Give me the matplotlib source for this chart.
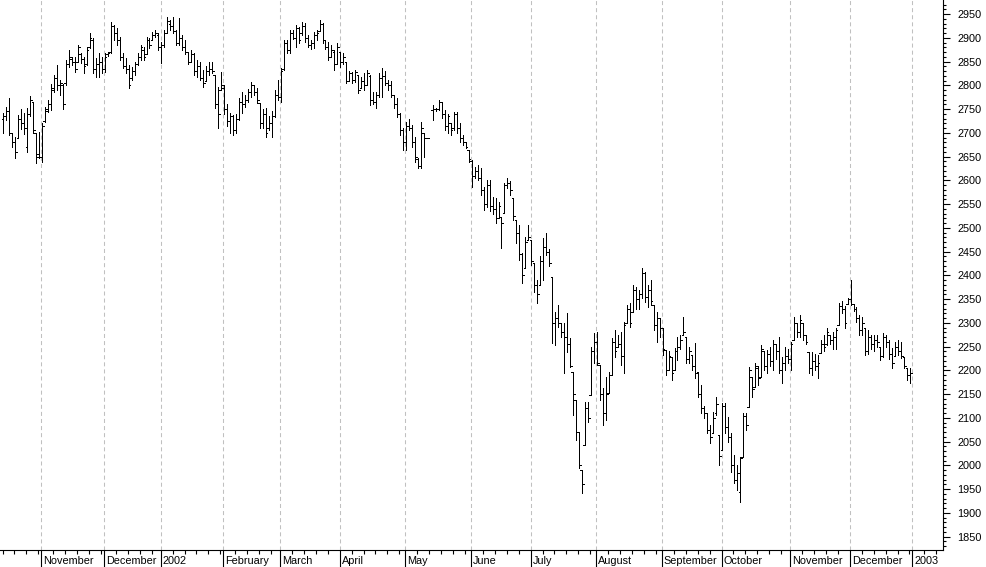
import numpy as np
import matplotlib
matplotlib.use("Agg")
import matplotlib.pyplot as plt
import matplotlib.transforms as mtransforms
from matplotlib.ticker import FixedLocator, MultipleLocator, NullFormatter

plt.rcParams['font.family'] = ['Liberation Sans', 'DejaVu Sans']
plt.rcParams['lines.scale_dashes'] = False

# month labels (drawn at the first bar of each month) and trading days per month
month_labels = ["November", "December", "2002", "February", "March", "April", "May",
                "June", "July", "August", "September", "October", "November",
                "December", "2003"]
bars_per_month = [13, 21, 19, 21, 19, 20, 22, 22, 20, 22, 22, 20, 23, 20, 21]  # Oct 2001 .. Dec 2002

nan = float("nan")

high = [
    # Oct 2001
    2742, 2754, 2773, 2700, 2691, 2737, 2750, 2742, 2752, 2777, 2765, 2700, 2702,
    # Nov
    2721, 2754, 2769, 2803, 2822, 2843, 2811, 2803, 2853, 2874, 2860, 2860, 2885, 2868, 2860, 2880, 2910, 2899, 2857, 2868, 2860,
    # Dec
    2868, 2870, 2933, 2927, 2920, 2902, 2868, 2857, 2843, 2838, 2849, 2868, 2885, 2880, 2902, 2899, 2912, 2916, 2910,
    # Jan 2002
    2891, 2916, 2944, 2937, 2944, 2916, 2941, 2906, 2895, 2870, 2874, 2868, 2853, 2849, 2832, 2840, 2849, 2850, 2822, 2796, 2828,
    # Feb
    2800, 2760, 2742, 2737, 2740, 2773, 2786, 2780, 2792, 2807, 2800, 2795, 2763, 2750, 2752, 2735, 2745, 2790, 2811,
    # Mar
    2836, 2895, 2895, 2916, 2916, 2927, 2922, 2933, 2931, 2906, 2895, 2912, 2916, 2937, 2931, 2895, 2891, 2885, 2874, 2889,
    # Apr
    2870, 2868, 2849, 2830, 2828, 2832, 2822, 2818, 2826, 2832, 2822, 2786, 2786, 2826, 2836, 2830, 2812, 2810, 2780, 2773, 2742, 2710,
    # May
    2723, 2730, 2716, 2691, 2647, 2723, 2700, 2689, nan, 2758, 2752, 2769, 2765, 2748, 2740, 2720, 2744, 2744, 2721, 2695, 2681, 2664,
    # Jun
    2643, 2628, 2632, 2626, 2586, 2601, 2601, 2565, 2563, 2555, 2523, 2594, 2605, 2598, 2563, 2516, 2506, 2447, 2481, 2506,
    # Jul
    2474, 2426, 2390, 2440, 2478, 2489, 2455, 2397, 2323, 2337, 2300, 2300, 2321, 2268, 2197, 2138, 2070, 1990, 2133, 2133, 2249, 2279,
    # Aug
    2281, 2211, 2163, 2186, 2197, 2268, 2285, 2275, 2281, 2302, 2337, 2342, 2380, 2375, 2370, 2415, 2407, 2380, 2390, 2337, 2323, 2310,
    # Sep
    2289, 2243, 2240, 2228, 2247, 2270, 2275, 2312, 2270, 2250, 2232, 2258, 2197, 2169, 2125, 2110, 2085, 2112, 2144, 2064,
    # Oct
    2131, 2131, 2102, 2068, 2022, 2001, 2018, 2110, 2110, 2207, 2186, 2215, 2210, 2253, 2240, 2243, 2250, 2264, 2255, 2270, 2228, 2249, 2245,
    # Nov
    2260, 2312, 2300, 2317, 2300, 2275, 2239, 2239, 2235, 2232, 2264, 2275, 2289, 2275, 2280, 2290, 2342, 2345, 2335, 2352,
    # Dec
    2390, 2340, 2333, 2317, 2312, 2289, 2285, 2275, 2275, 2274, 2249, 2279, 2275, 2265, 2247, 2260, 2264, 2260, 2228, 2205, 2205,
]

low = [
    2700, 2727, 2695, 2670, 2647, 2689, 2708, 2698, 2660, 2735, 2700, 2636, 2647,
    2639, 2723, 2744, 2748, 2786, 2790, 2780, 2750, 2801, 2838, 2843, 2828, 2849, 2847, 2826, 2843, 2878, 2826, 2817, 2817, 2825,
    2828, 2862, 2868, 2895, 2885, 2853, 2836, 2826, 2794, 2811, 2822, 2843, 2853, 2853, 2868, 2878, 2895, 2902, 2874,
    2847, 2880, 2910, 2916, 2910, 2885, 2885, 2875, 2865, 2845, 2849, 2822, 2817, 2811, 2796, 2810, 2822, 2825, 2752, 2710, 2790,
    2740, 2715, 2700, 2695, 2700, 2727, 2742, 2755, 2765, 2775, 2780, 2763, 2710, 2710, 2691, 2705, 2692, 2733, 2769,
    2765, 2832, 2868, 2868, 2898, 2880, 2890, 2905, 2891, 2880, 2876, 2878, 2895, 2915, 2889, 2876, 2853, 2860, 2832, 2845,
    2838, 2845, 2805, 2810, 2805, 2806, 2784, 2795, 2790, 2800, 2758, 2760, 2752, 2775, 2775, 2800, 2790, 2775, 2752, 2733, 2695, 2664,
    2664, 2705, 2670, 2638, 2626, 2626, 2650, 2689, nan, 2727, 2745, 2748, 2731, 2706, 2700, 2695, 2706, 2700, 2681, 2675, 2668, 2638,
    2585, 2605, 2600, 2569, 2538, 2544, 2535, 2530, 2510, 2520, 2458, 2531, 2584, 2570, 2516, 2468, 2432, 2384, 2415, 2474,
    2422, 2365, 2342, 2380, 2390, 2443, 2420, 2258, 2254, 2291, 2270, 2194, 2239, 2207, 2106, 2054, 1995, 1942, 2043, 2091, 2148, 2216,
    2211, 2138, 2085, 2096, 2152, 2190, 2228, 2250, 2211, 2194, 2300, 2291, 2323, 2330, 2330, 2352, 2344, 2333, 2338, 2285, 2260, 2270,
    2232, 2190, 2200, 2180, 2201, 2222, 2245, 2274, 2215, 2215, 2201, 2184, 2144, 2110, 2100, 2068, 2047, 2068, 2106, 2001,
    2032, 2068, 2049, 1986, 1963, 1948, 1923, 2018, 2075, 2123, 2144, 2165, 2170, 2186, 2200, 2195, 2210, 2201, 2225, 2195, 2174, 2201, 2215,
    2201, 2264, 2270, 2270, 2265, 2255, 2194, 2190, 2200, 2184, 2237, 2240, 2253, 2255, 2245, 2245, 2295, 2320, 2290, 2340,
    2337, 2325, 2302, 2275, 2275, 2232, 2235, 2245, 2240, 2249, 2222, 2228, 2250, 2225, 2205, 2230, 2232, 2226, 2205, 2180, 2174,
]

open_ = [
    2730, 2735, 2745, 2700, 2680, 2690, 2730, 2720, 2670, 2740, 2765, 2700, 2655,
    2650, 2725, 2750, 2760, 2790, 2815, 2800, 2800, 2805, 2845, 2855, 2850, 2850, 2865, 2855, 2845, 2880, 2895, 2835, 2845, 2850,
    2835, 2865, 2870, 2925, 2910, 2895, 2860, 2840, 2835, 2815, 2830, 2845, 2860, 2875, 2865, 2895, 2895, 2905, 2905,
    2880, 2885, 2910, 2930, 2925, 2915, 2890, 2900, 2880, 2870, 2850, 2865, 2830, 2840, 2815, 2810, 2830, 2835, 2822, 2760, 2790,
    2795, 2750, 2725, 2735, 2705, 2730, 2765, 2760, 2770, 2785, 2800, 2785, 2763, 2720, 2740, 2710, 2720, 2735, 2780,
    2775, 2835, 2890, 2875, 2910, 2900, 2920, 2910, 2925, 2900, 2885, 2890, 2905, 2915, 2930, 2895, 2880, 2860, 2870, 2845,
    2870, 2850, 2849, 2810, 2825, 2812, 2822, 2795, 2810, 2800, 2820, 2770, 2765, 2780, 2815, 2820, 2805, 2800, 2780, 2760, 2740, 2705,
    2680, 2715, 2710, 2680, 2645, 2630, 2700, 2689, nan, 2748, 2750, 2750, 2765, 2740, 2715, 2720, 2710, 2740, 2710, 2690, 2680, 2664,
    2640, 2610, 2620, 2605, 2580, 2550, 2590, 2545, 2540, 2520, 2523, 2531, 2590, 2595, 2563, 2516, 2490, 2445, 2415, 2475,
    2474, 2426, 2380, 2380, 2430, 2460, 2450, 2397, 2300, 2310, 2300, 2280, 2270, 2255, 2197, 2138, 2070, 1990, 2043, 2120, 2148, 2240,
    2260, 2211, 2150, 2110, 2152, 2190, 2260, 2250, 2255, 2230, 2300, 2330, 2323, 2370, 2350, 2360, 2405, 2355, 2370, 2337, 2295, 2310,
    2289, 2243, 2200, 2228, 2201, 2240, 2250, 2274, 2270, 2225, 2232, 2210, 2197, 2150, 2120, 2110, 2075, 2068, 2110, 2064,
    2032, 2125, 2080, 2060, 2000, 1970, 1945, 2018, 2105, 2123, 2186, 2165, 2205, 2186, 2240, 2210, 2235, 2220, 2255, 2240, 2200, 2215, 2230,
    2225, 2264, 2300, 2280, 2300, 2275, 2239, 2205, 2220, 2210, 2237, 2255, 2255, 2275, 2265, 2270, 2295, 2335, 2330, 2340,
    2350, 2340, 2330, 2310, 2285, 2289, 2240, 2270, 2255, 2265, 2249, 2230, 2270, 2260, 2235, 2230, 2250, 2240, 2228, 2205, 2190,
]

close = [
    2735, 2745, 2700, 2680, 2660, 2730, 2720, 2710, 2740, 2770, 2705, 2650, 2650,
    2715, 2745, 2760, 2795, 2815, 2800, 2805, 2760, 2845, 2860, 2850, 2835, 2880, 2855, 2840, 2875, 2900, 2835, 2845, 2850, 2835,
    2860, 2868, 2925, 2910, 2895, 2860, 2840, 2835, 2800, 2830, 2845, 2860, 2880, 2860, 2895, 2885, 2905, 2910, 2880,
    2885, 2910, 2935, 2925, 2915, 2890, 2900, 2880, 2870, 2850, 2865, 2830, 2840, 2815, 2805, 2830, 2835, 2830, 2760, 2740, 2800,
    2750, 2725, 2735, 2705, 2730, 2765, 2760, 2770, 2785, 2800, 2785, 2770, 2720, 2740, 2700, 2720, 2735, 2780, 2775,
    2830, 2890, 2875, 2910, 2900, 2920, 2895, 2925, 2900, 2885, 2890, 2905, 2910, 2930, 2895, 2880, 2860, 2875, 2845, 2880,
    2850, 2860, 2810, 2825, 2812, 2828, 2790, 2810, 2800, 2825, 2770, 2765, 2780, 2815, 2820, 2805, 2800, 2780, 2760, 2740, 2705, 2680,
    2715, 2710, 2680, 2650, 2630, 2710, 2690, 2689, nan, 2750, 2750, 2765, 2740, 2715, 2735, 2705, 2740, 2710, 2690, 2680, 2670, 2645,
    2610, 2620, 2605, 2580, 2550, 2590, 2545, 2540, 2520, 2545, 2510, 2590, 2595, 2580, 2525, 2490, 2445, 2400, 2470, 2480,
    2430, 2380, 2360, 2430, 2460, 2450, 2425, 2300, 2310, 2300, 2280, 2270, 2255, 2210, 2150, 2070, 2000, 1960, 2120, 2100, 2240, 2260,
    2215, 2150, 2110, 2150, 2190, 2260, 2240, 2255, 2230, 2295, 2330, 2300, 2370, 2350, 2360, 2405, 2355, 2370, 2345, 2295, 2310, 2290,
    2245, 2200, 2230, 2195, 2240, 2250, 2265, 2280, 2225, 2240, 2210, 2195, 2150, 2120, 2110, 2075, 2060, 2100, 2130, 2020,
    2125, 2080, 2060, 2000, 1970, 1985, 2015, 2105, 2085, 2200, 2160, 2210, 2185, 2245, 2210, 2235, 2220, 2255, 2240, 2200, 2215, 2230, 2225,
    2255, 2300, 2280, 2305, 2275, 2260, 2205, 2220, 2210, 2215, 2255, 2250, 2280, 2265, 2270, 2285, 2335, 2330, 2300, 2350,
    2340, 2330, 2310, 2285, 2300, 2240, 2270, 2255, 2265, 2260, 2230, 2270, 2260, 2235, 2215, 2250, 2240, 2230, 2210, 2190, 2195,
]

H = np.array(high, dtype=float)
L = np.array(low, dtype=float)
O = np.array(open_, dtype=float)
C = np.array(close, dtype=float)
x = np.arange(len(H))
ok = ~np.isnan(H)

fig = plt.figure(figsize=(9.86, 5.67), dpi=100)
ax = fig.add_axes([0, 17 / 567, 942.7 / 986, 550 / 567])

# month separators
starts = np.cumsum([0] + bars_per_month)
month_pos = starts[1:] - 0.25
for p in month_pos:
    ax.axvline(p, color='#c0c0c0', lw=0.75, dashes=(2.9, 2.2), zorder=0)

# OHLC bars, thin 1px strokes
bar_kw = dict(color='black', lw=0.72, antialiased=False)
ax.vlines(x[ok], L[ok], H[ok], **bar_kw)
ax.hlines(O[ok], x[ok] - 0.55, x[ok], **bar_kw)
ax.hlines(C[ok], x[ok], x[ok] + 0.55, **bar_kw)

ax.set_xlim(-1.11, 314.9)
ax.set_ylim(1822, 2979.5)

for side in ['top', 'left']:
    ax.spines[side].set_visible(False)
for side in ['bottom', 'right']:
    ax.spines[side].set_linewidth(0.8)
    ax.spines[side].set_color('black')

# y axis on the right
ax.yaxis.tick_right()
ax.yaxis.set_major_locator(MultipleLocator(50))
ax.yaxis.set_minor_locator(MultipleLocator(10))
ax.tick_params(axis='y', which='major', length=5, width=0.8, pad=5.5,
               labelsize=7.8, colors='black')
ax.tick_params(axis='y', which='minor', length=2.5, width=0.8)

# x axis: long ticks at month starts, short ticks every 4 bars
edges = list(starts) + [315]
minor = []
for k in range(len(edges) - 1):
    a, b = edges[k], edges[k + 1]
    j0 = 0 if k == 0 else 1
    p = a + 4 * j0
    while p <= b - 1:
        minor.append(p - 0.25)
        p += 4
ax.xaxis.set_major_locator(FixedLocator(month_pos))
ax.xaxis.set_minor_locator(FixedLocator(minor))
ax.xaxis.set_major_formatter(NullFormatter())
ax.tick_params(axis='x', which='major', length=12.3, width=0.8)
ax.tick_params(axis='x', which='minor', length=2.9, width=0.8)

trans = mtransforms.blended_transform_factory(ax.transData, ax.transAxes)
for p, lab in zip(month_pos, month_labels):
    ax.text(p + 0.7, -0.02, lab, transform=trans, ha='left', va='center',
            fontsize=7.8, color='black')

fig.savefig('out.png', dpi=100)
